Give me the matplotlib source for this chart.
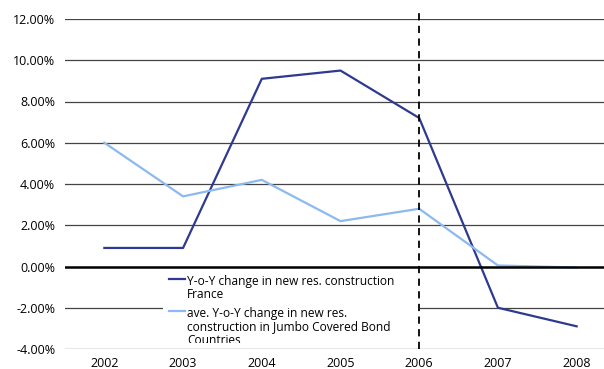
import matplotlib.pyplot as plt
from matplotlib.lines import Line2D
from matplotlib.patches import Rectangle
from matplotlib.transforms import Bbox, TransformedBbox

plt.rcParams['font.family'] = ['Open Sans', 'DejaVu Sans']

years = ['2002', '2003', '2004', '2005', '2006', '2007', '2008']
france = [0.9, 0.9, 9.1, 9.5, 7.2, -2.0, -2.9]
jumbo = [6.0, 3.4, 4.2, 2.2, 2.8, 0.05, -0.05]
yticks = [-4, -2, 0, 2, 4, 6, 8, 10, 12]
label_france = 'Y-o-Y change in new res. construction\nFrance'
label_jumbo = 'ave. Y-o-Y change in new res.\nconstruction in Jumbo Covered Bond\nCountries'

W, H = 604, 369
fig = plt.figure(figsize=(W / 100, H / 100), dpi=100)
ax = fig.add_axes([65 / W, 1 - 349 / H, 551 / W, 330 / H])

x = list(range(len(years)))
for y in yticks:
    if y == 0:
        ax.axhline(y, color='black', lw=1.8, zorder=6)
    elif y == -4:
        ax.axhline(y, color='#444444', lw=0.9, zorder=6)
    else:
        ax.axhline(y, color='#444444', lw=0.9, zorder=1)

ax.plot(x, france, color='#2e3a8f', lw=1.6, zorder=3)
ax.plot(x, jumbo, color='#8cb9ef', lw=1.6, zorder=3)
ax.plot([4, 4], [-4, 12.45], color='black', lw=1.3, ls=(0, (4, 3)),
        clip_on=False, zorder=7)

ax.set_xlim(-0.5, len(years) - 0.5)
ax.set_ylim(-4, 12)
ax.set_xticks(x)
ax.set_xticklabels(years)
ax.set_yticks(yticks)
ax.set_yticklabels(['%.2f%%' % v for v in yticks])
ax.tick_params(length=0, labelsize=9, pad=7)
ax.tick_params(axis='x', pad=6)
for s in ax.spines.values():
    s.set_visible(False)


def px(xp, yp):
    return xp / W, 1 - yp / H


# legend box drawn by hand so each key sits on the first line of its label
box_x0, box_y0 = px(163, 348)
box_x1, box_y1 = px(420, 268)
ax.add_patch(Rectangle((box_x0, box_y0), box_x1 - box_x0, box_y1 - box_y0,
                       transform=fig.transFigure, facecolor='white',
                       edgecolor='none', zorder=4))
clip = TransformedBbox(Bbox([[0, 1 - 343 / H], [1, 1]]), fig.transFigure)
for label, color, ypos in [(label_france, '#2e3a8f', 279),
                           (label_jumbo, '#8cb9ef', 311)]:
    xa, ya = px(169, ypos)
    xb, _ = px(185, ypos)
    ax.add_line(Line2D([xa, xb], [ya, ya], transform=fig.transFigure,
                       color=color, lw=1.6, zorder=5, clip_on=False))
    tx, ty = px(187, ypos - 4.5)
    t = ax.text(tx, ty, label, transform=fig.transFigure, fontsize=8.6,
                va='top', ha='left', linespacing=1.1, zorder=5)
    t.set_clip_box(clip)
    t.set_clip_on(True)

fig.savefig('out.png', dpi=100)
plt.close()
